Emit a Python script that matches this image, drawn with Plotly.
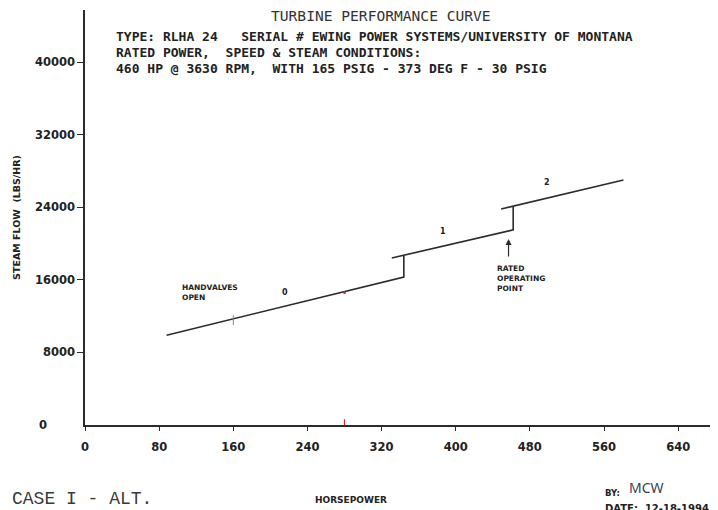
import plotly.graph_objects as go

# ---- data ----
stage0_hp = [88, 344, 344]
stage0_flow = [9900, 16300, 18650]
stage1_hp = [331, 462, 462]
stage1_flow = [18400, 21500, 24100]
stage2_hp = [449, 581]
stage2_flow = [23800, 27000]

x_ticks = [0, 80, 160, 240, 320, 400, 480, 560, 640]
y_ticks = [8000, 16000, 24000, 32000, 40000]
y_tick_labels = ["8000", "16000", "24000", "32000", "40000"]

mark_hp = [280]
mark_flow = [14600]

LINE = "#2b2b2b"
TXT = "#222222"
BOLD = "DejaVu Sans"
MONO = "DejaVu Sans Mono"

fig = go.Figure()
for xs, ys in [(stage0_hp, stage0_flow), (stage1_hp, stage1_flow), (stage2_hp, stage2_flow)]:
    fig.add_trace(go.Scatter(x=xs, y=ys, mode="lines",
                             line=dict(color=LINE, width=1.6),
                             hoverinfo="skip", showlegend=False))
fig.add_trace(go.Scatter(x=mark_hp, y=mark_flow, mode="markers",
                         marker=dict(color="#d23030", size=3),
                         hoverinfo="skip", showlegend=False))

ann = []
def txt(x, y, s, size=8, family=BOLD, xanchor="left", weight="bold", xref="x", yref="y",
        color=TXT, align="left"):
    ann.append(dict(x=x, y=y, xref=xref, yref=yref, text=s, showarrow=False,
                    xanchor=xanchor, yanchor="middle", align=align,
                    font=dict(family=family, size=size, color=color, weight=weight)))

txt(319.4, 45179, "TURBINE PERFORMANCE CURVE", size=14.6, family=MONO, xanchor="center",
    weight="normal", color="#333333")
txt(31.3, 42865, "TYPE: RLHA 24   SERIAL # EWING POWER SYSTEMS/UNIVERSITY OF MONTANA", size=13, family=MONO)
txt(31.3, 41102, "RATED POWER,  SPEED & STEAM CONDITIONS:", size=13, family=MONO)
txt(31.3, 39339, "460 HP @ 3630 RPM,  WITH 165 PSIG - 373 DEG F - 30 PSIG", size=13, family=MONO)

txt(102, 14600, "HANDVALVES<br>OPEN", size=7.5)
txt(216, 14656, "0", size=8, xanchor="center")
txt(386, 21377, "1", size=8, xanchor="center")
txt(498.6, 26777, "2", size=8, xanchor="center")
txt(442.5, 16198, "RATED<br>OPERATING<br>POINT", size=7.5)

ann.append(dict(x=457, y=20500, ax=457, ay=18400, xref="x", yref="y", axref="x", ayref="y",
                showarrow=True, arrowhead=2, arrowsize=1, arrowwidth=1.2, arrowcolor=LINE, text=""))

# zero label of the steam-flow axis (sits left of the other labels)
txt(-0.0758, 0, "0", size=11.5, xref="paper", yref="paper")

# bottom texts
txt(-0.1185, -0.1783, "CASE I - ALT.", size=18, family="Liberation Mono", weight="normal",
    xref="paper", yref="paper", color="#3a3a3a")
txt(0.4202, -0.1807, "HORSEPOWER", size=9, xanchor="center", xref="paper", yref="paper")
txt(0.8183, -0.1639, "BY:", size=8.5, xref="paper", yref="paper")
txt(0.8562, -0.1518, "MCW", size=14, family="Noto Sans", weight="normal",
    xref="paper", yref="paper", color="#3a3f55")
txt(0.8183, -0.2012, "DATE:  12-18-1994", size=10, xref="paper", yref="paper")

# small red tick on the horsepower axis, grey tick on the curve
shapes = [dict(type="line", xref="x", yref="paper", x0=280, x1=280, y0=0, y1=0.014,
               line=dict(color="#d23030", width=1.2)),
          dict(type="line", xref="x", yref="y", x0=160, x1=160, y0=11000, y1=12100,
               line=dict(color="#888888", width=1))]

fig.update_layout(
    width=710, height=502,
    margin=dict(l=77, r=0, t=2, b=85),
    paper_bgcolor="white", plot_bgcolor="white",
    showlegend=False,
    annotations=ann,
    shapes=shapes,
    xaxis=dict(range=[0, 683], tickvals=x_ticks, ticks="outside", ticklen=4, tickwidth=1.2,
               tickcolor=LINE, showline=True, linecolor=LINE, linewidth=1.6,
               showgrid=False, zeroline=False, ticklabelstandoff=6,
               tickfont=dict(family=BOLD, size=11.5, color=TXT, weight="bold")),
    yaxis=dict(range=[0, 45730], tickvals=y_ticks, ticktext=y_tick_labels, ticks="outside",
               ticklen=6, tickwidth=1.2, tickcolor=LINE, showline=True, linecolor=LINE,
               linewidth=1.6, showgrid=False, zeroline=False,
               tickfont=dict(family=BOLD, size=11.5, color=TXT, weight="bold"),
               title=dict(text="STEAM FLOW  (LBS/HR)", standoff=13,
                          font=dict(family=BOLD, size=9.5, color=TXT, weight="bold"))),
)

fig.write_html("out.html")
